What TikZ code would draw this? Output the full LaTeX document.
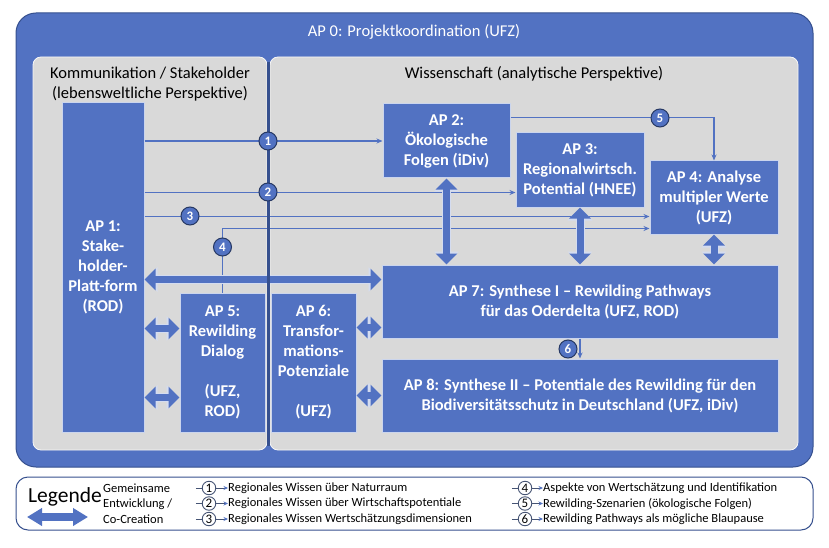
\documentclass[tikz,border=0pt]{standalone}
\usepackage{fontspec}
\setmainfont{Carlito}
\usetikzlibrary{positioning, arrows.meta}

\definecolor{apblue}{RGB}{82,114,194}
\definecolor{apdark}{RGB}{54,80,142}
\definecolor{panelgray}{RGB}{217,217,217}
\definecolor{leggray}{RGB}{70,84,116}

\begin{document}
\begin{tikzpicture}[x=1pt, y=-1pt,
    frame/.style={rectangle, rounded corners=20pt, fill=apblue, draw=apdark, line width=1pt, inner sep=0pt},
    panel/.style={rectangle, rounded corners=8pt, fill=panelgray, draw=white!80!panelgray, line width=0.8pt, inner sep=0pt},
    apbox/.style={rectangle, fill=apblue, draw=white!70!apblue, line width=1pt, inner sep=0pt, align=center, text=white, font=\bfseries\fontsize{16.5}{20}\selectfont},
    head/.style={align=center, font=\fontsize{16.5}{20}\selectfont},
    link/.style={draw=apblue, line width=1.2pt, -{Stealth[length=6pt,width=5pt]}},
    num/.style={circle, fill=apblue, draw=apdark!70!black, line width=1pt, inner sep=0pt, minimum size=18pt, text=white, font=\bfseries\fontsize{13}{13}\selectfont},
    coarrow/.style={draw=apblue, line width=7pt, arrows={Triangle[width=21pt,length=11pt]-Triangle[width=21pt,length=11pt]},
      preaction={draw=white!75!apblue, line width=9pt, arrows={Triangle[width=24pt,length=13pt]-Triangle[width=24pt,length=13pt]}}},
    sepline/.style={draw=apdark, line width=2.5pt},
    legnum/.style={circle, fill=white, draw=leggray, line width=0.9pt, inner sep=0pt, minimum size=13.5pt, font=\fontsize{13}{13}\selectfont},
    legtext/.style={anchor=west, inner sep=0pt, font=\fontsize{12.5}{15.5}\selectfont},
    legline/.style={draw=leggray, line width=0.9pt},
    leglink/.style={draw=leggray, line width=0.9pt, -{Stealth[length=4.5pt,width=4pt,color=apblue]}},
    legarrow/.style={draw=apblue, line width=7.5pt, arrows={Triangle[width=17pt,length=15pt]-Triangle[width=17pt,length=15pt]}}
  ]
    \useasboundingbox (0,0) rectangle (829,548);

    % frame and panels
    \node (ap0) [frame, minimum width=797pt, minimum height=454pt] at (414.5,240) {};
    \node (ap0title) [text=white, font=\fontsize{16.5}{18}\selectfont] at (414,32) {AP 0: Projektkoordination (UFZ)};
    \node (komm) [panel, minimum width=234pt, minimum height=393pt] at (150,253.5) {};
    \node (wiss) [panel, minimum width=528pt, minimum height=393pt] at (534,253.5) {};
    \node (kommtitle) [head] at (150,84) {Kommunikation / Stakeholder\\(lebensweltliche Perspektive)};
    \node (wisstitle) [head] at (534,74) {Wissenschaft (analytische Perspektive)};

    % work packages
    \node (ap1) [apbox, minimum width=82pt, minimum height=329pt] at (103,267.5) {AP 1:\\Stake-\\holder-\\Platt-form\\(ROD)};
    \node (ap2) [apbox, minimum width=127pt, minimum height=74pt] at (446.5,141) {AP 2:\\Ökologische\\Folgen (iDiv)};
    \node (ap3) [apbox, minimum width=128pt, minimum height=74pt] at (580,170) {AP 3:\\Regionalwirtsch.\\Potential (HNEE)};
    \node (ap4) [apbox, minimum width=128pt, minimum height=73pt] at (714,197.5) {AP 4: Analyse\\multipler Werte\\(UFZ)};
    \node (ap7) [apbox, minimum width=396pt, minimum height=73pt] at (580,301.5) {AP 7: Synthese I – Rewilding Pathways\\für das Oderdelta (UFZ, ROD)};
    \node (ap8) [apbox, minimum width=396pt, minimum height=73pt, below=20pt of ap7] {AP 8: Synthese II – Potentiale des Rewilding für den\\Biodiversitätsschutz in Deutschland (UFZ, iDiv)};
    \node (ap5) [apbox, minimum width=85pt, minimum height=139pt] at (222.5,362.5) {AP 5:\\Rewilding\\Dialog\\[20pt](UFZ,\\ROD)};
    \node (ap6) [apbox, minimum width=85pt, minimum height=139pt, right=5pt of ap5] {AP 6:\\Transfor-\\mations-\\Potenziale\\[20pt](UFZ)};

    % knowledge flows
    \coordinate (in2) at ([yshift=15pt]ap3.south west);
    \coordinate (in3) at ([yshift=18pt]ap4.south west);
    \coordinate (in4) at ([yshift=6pt]ap4.south west);
    \coordinate (out5) at ([yshift=-14pt]ap2.north east);
    \draw[link] (ap1.east |- ap2.west) -- (ap2.west);
    \draw[link] (ap1.east |- in2) -- (in2);
    \draw[link] (ap1.east |- in3) -- (in3);
    \draw[link] (ap5.north) |- (in4);
    \draw[link] (out5) -| (ap4.north);
    \draw[link] (ap7.south) -- (ap8.north);

    % co-creation
    \coordinate (co1) at ([yshift=-15pt]ap7.north west);
    \coordinate (co5a) at ([yshift=34pt]ap5.west);
    \coordinate (co5b) at ([yshift=-35pt]ap5.west);
    \coordinate (co6a) at ([yshift=35pt]ap6.east);
    \draw[coarrow] (ap2.south) -- (ap2.south |- ap7.north);
    \draw[coarrow] (ap3.south) -- (ap3.south |- ap7.north);
    \draw[coarrow] (ap4.south) -- (ap4.south |- ap7.north);
    \draw[coarrow] (ap1.east |- co1) -- (co1);
    \draw[coarrow] (ap1.east |- co5a) -- (co5a);
    \draw[coarrow] (ap1.east |- co5b) -- (co5b);
    \draw[coarrow] (co6a) -- (co6a -| ap7.west);
    \draw[coarrow] (ap6.east |- ap8.west) -- (ap8.west);

    \draw[sepline] ([xshift=1pt,yshift=-5pt]komm.north east) -- ([xshift=1pt,yshift=4pt]komm.south east);

    \node (n1) [num] at (268,141) {1};
    \node (n2) [num] at (268,192) {2};
    \node (n3) [num] at (190,216) {3};
    \node (n4) [num] at (222.5,247) {4};
    \node (n5) [num] at (660,118) {5};
    \node (n6) [num] at (568,349) {6};

    % legend
    \node (legend) [rectangle, rounded corners=12pt, draw=apdark, line width=1pt, fill=white, minimum width=797pt, minimum height=53pt] at (414.5,503.5) {};
    \node (legtitle) [anchor=west, inner sep=0pt, font=\fontsize{21.5}{22}\selectfont] at (28,497) {Legende};
    \coordinate (la) at (27,517);
    \coordinate (lb) at (88,517);
    \draw[legarrow] (la) -- (lb);
    \node (legco) [legtext, align=left] at (103,503.5) {Gemeinsame\\Entwicklung /\\Co-Creation};

    \node (l1) [legnum] at (209,488) {1};
    \node (t1) [legtext] at (228,488) {Regionales Wissen über Naturraum};
    \draw[legline] ([xshift=-6pt]l1.west) -- (l1.west);
    \draw[leglink] (l1.east) -- (t1.west);
    \node (l2) [legnum] at (209,503.5) {2};
    \node (t2) [legtext] at (228,503.5) {Regionales Wissen über Wirtschaftspotentiale};
    \draw[legline] ([xshift=-6pt]l2.west) -- (l2.west);
    \draw[leglink] (l2.east) -- (t2.west);
    \node (l3) [legnum] at (209,519) {3};
    \node (t3) [legtext] at (228,519) {Regionales Wissen Wertschätzungsdimensionen};
    \draw[legline] ([xshift=-6pt]l3.west) -- (l3.west);
    \draw[leglink] (l3.east) -- (t3.west);
    \node (l4) [legnum] at (525,488) {4};
    \node (t4) [legtext] at (543,488) {Aspekte von Wertschätzung und Identifikation};
    \draw[legline] ([xshift=-6pt]l4.west) -- (l4.west);
    \draw[leglink] (l4.east) -- (t4.west);
    \node (l5) [legnum] at (525,503.5) {5};
    \node (t5) [legtext] at (543,503.5) {Rewilding-Szenarien (ökologische Folgen)};
    \draw[legline] ([xshift=-6pt]l5.west) -- (l5.west);
    \draw[leglink] (l5.east) -- (t5.west);
    \node (l6) [legnum] at (525,519) {6};
    \node (t6) [legtext] at (543,519) {Rewilding Pathways als mögliche Blaupause};
    \draw[legline] ([xshift=-6pt]l6.west) -- (l6.west);
    \draw[leglink] (l6.east) -- (t6.west);
\end{tikzpicture}
\end{document}
